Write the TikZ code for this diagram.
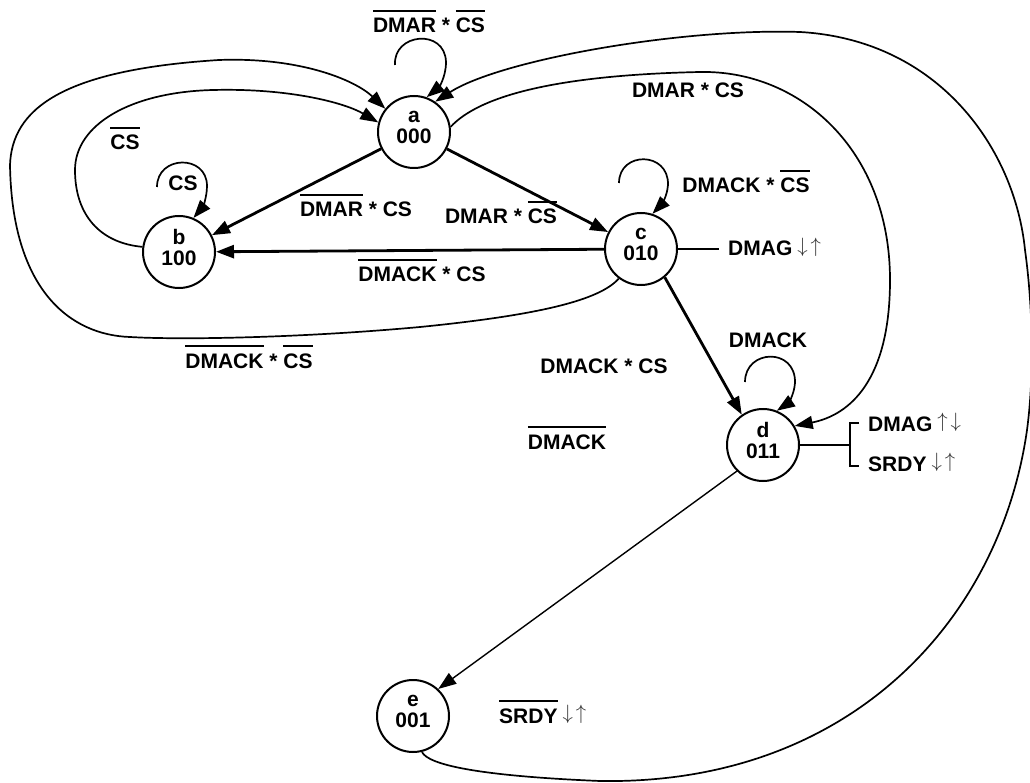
\documentclass[tikz,border=0pt]{standalone}
\usepackage{fontspec}
\setmainfont{Liberation Sans}
\usetikzlibrary{arrows.meta}
\newcommand{\lblfont}{\bfseries\fontsize{21}{24}\selectfont}
\newcommand{\statefont}{\bfseries\fontsize{21}{21}\selectfont}
\newcommand{\olbar}[1]{{\setbox0=\hbox{#1}\rlap{\rule[21pt]{\wd0}{1.7pt}}\box0}}
\newcommand{\sdn}{\rule[-10pt]{0pt}{10pt}}
\newcommand{\arr}[2]{{\fontsize{20.74}{24}\selectfont\color{black!80}\kern5pt\raisebox{3.5pt}{$#1\kern3pt#2$}}}
\newcommand{\dnup}{\arr{\downarrow}{\uparrow}}
\newcommand{\updn}{\arr{\uparrow}{\downarrow}}
\tikzset{
  state/.style={circle, draw, line width=2pt, minimum size=72pt, inner sep=0pt, align=center, font=\statefont},
  lbl/.style={font=\lblfont, inner sep=0pt, anchor=base},
  lblw/.style={font=\lblfont, inner sep=0pt, anchor=base west},
  tip/.style={-{Triangle[length=18pt,width=13pt]}},
  heavy/.style={line width=2.8pt, tip},
  curve/.style={line width=1.7pt, tip},
  light/.style={line width=1.4pt, tip},
  outwire/.style={line width=2.5pt}
}
\begin{document}
\begin{tikzpicture}[x=1pt,y=-1pt]
\fill[white] (0,0) rectangle (1030,783);
\useasboundingbox (0,0) rectangle (1030,783);
% states
\node[state] (a) at (414,132) {a\\000\sdn};
\node[state] (b) at (179,252) {b\\100\sdn};
\node[state] (c) at (641,249) {c\\010\sdn};
\node[state] (d) at (763,445) {d\\011\sdn};
\node[state] (e) at (413,716) {e\\001\sdn};
% loop starts and wire ends
\coordinate (aS) at (395,65);
\coordinate (bS) at (157,187);
\coordinate (cS) at (619,183);
\coordinate (dS) at (745,382);
\coordinate (cO) at (719,249);
\coordinate (dO) at (850,445);
\coordinate (dT) at (850,423);
\coordinate (dB) at (850,466);
\coordinate (dT2) at (859,423);
\coordinate (dB2) at (859,466);
% straight edges
\draw[heavy] (a) -- (b);
\draw[heavy] (a) -- (c);
\draw[heavy] (c) -- (b);
\draw[heavy] (c.-50) -- (d.125);
\draw[light] (d.-135) -- (e.47);
% self loops
\draw[curve] (aS) .. controls (393,33) and (445,28) .. (446,62) .. controls (446,78) and (438,88) .. (a.70);
\draw[curve] (bS) .. controls (157,155) and (207,154) .. (207,186) .. controls (207,198) and (202,208) .. (b.67);
\draw[curve] (cS) .. controls (619,151) and (669,151) .. (668,185) .. controls (667,198) and (660,206) .. (c.72);
\draw[curve] (dS) .. controls (745,349) and (796,347) .. (795,383) .. controls (794,396) and (787,404) .. (d.68);
% b -> a inner
\draw[curve] (b.172) .. controls (100,243) and (75,215) .. (75,170) .. controls (75,125) and (130,92) .. (213,90) .. controls (290,88) and (345,103) .. (a.165);
% c -> a outer left
\draw[curve] (c.-127) .. controls (600,300) and (540,315) .. (420,327) .. controls (300,338) and (180,340) .. (130,337) .. controls (70,335) and (12,290) .. (10,165) .. controls (12,110) and (60,70) .. (219,60) .. controls (300,57) and (355,80) .. (a.141);
% a -> d inner right
\draw[curve] (a.8) .. controls (480,95) and (560,75) .. (700,72) .. controls (800,70) and (890,150) .. (890,280) .. controls (890,380) and (850,415) .. (d.31);
% e -> a outer right
\draw[curve] (e.-76) .. controls (428,765) and (480,776) .. (600,781) .. controls (850,785) and (1000,620) .. (1027,430) .. controls (1035,370) and (1032,300) .. (1025,250) .. controls (1015,150) and (940,40) .. (800,32) .. controls (680,28) and (500,60) .. (a.55);
% output wires
\draw[outwire] (c.east) -- (cO);
\draw[outwire] (d.east) -- (dO);
\draw[outwire] (dT2) -- (dT) -- (dB) -- (dB2);
% labels
\node[lbl] (la) at (429,33) {\olbar{DMAR} * \olbar{CS}};
\node[lbl] (lcs) at (125,150) {\olbar{CS}};
\node[lbl] (lb) at (183,191) {CS};
\node[lbl] (lab) at (356,217) {\olbar{DMAR} * CS};
\node[lbl] (lac) at (501,224) {DMAR * \olbar{CS}};
\node[lbl] (lcb) at (422,282) {\olbar{DMACK} * CS};
\node[lbl] (lca) at (249,368) {\olbar{DMACK} * \olbar{CS}};
\node[lbl] (lad) at (688,98) {DMAR * CS};
\node[lbl] (lc) at (746,193) {DMACK * \olbar{CS}};
\node[lblw] (lcg) at (728,256) {DMAG\dnup};
\node[lbl] (ld) at (768,347) {DMACK};
\node[lbl] (lcd) at (604,373) {DMACK * CS};
\node[lblw] (ldg) at (868,431) {DMAG\updn};
\node[lblw] (lds) at (868,471) {SRDY\dnup};
\node[lbl] (lde) at (567,449) {\olbar{DMACK}};
\node[lblw] (lea) at (499,723) {\olbar{SRDY}\dnup};
\end{tikzpicture}
\end{document}
